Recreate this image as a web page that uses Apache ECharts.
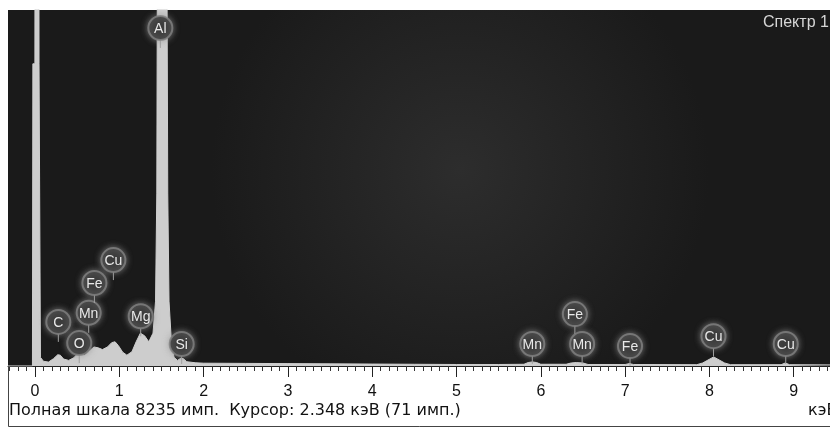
<!DOCTYPE html>
<html><head><meta charset="utf-8">
<script src="https://cdn.jsdelivr.net/npm/echarts@6/dist/echarts.min.js"></script>
<style>html,body{margin:0;padding:0;background:#fff}#c{width:830px;height:428px}</style>
</head><body><div id="c"></div>
<script>
// Spectrum: energy (keV) and counts
const specKeV = [-0.32,-0.03,-0.025,-0.001,0,0.047,0.048,0.06,0.065,0.1,0.16,0.22,0.27,0.3,0.34,0.4,0.46,0.51,0.55,0.59,0.64,0.7,0.75,0.8,0.86,0.91,0.95,0.99,1.04,1.09,1.15,1.2,1.25,1.3,1.35,1.4,1.43,1.445,1.452,1.565,1.575,1.59,1.62,1.65,1.69,1.73,1.76,1.8,1.9,2.0,2.5,3.0,3.5,4.0,4.5,5.0,5.5,5.8,5.85,5.9,5.95,6.0,6.3,6.36,6.42,6.5,6.56,7.0,7.05,7.1,7.85,7.92,8.05,8.18,8.25,8.85,8.9,8.95,9.43];
const specCounts = [0,0,6990,6990,9500,9500,6990,6990,200,110,90,170,260,250,160,130,190,290,300,250,340,440,420,380,440,540,560,470,320,250,330,560,760,700,560,760,1500,4000,9500,9500,4000,1500,500,200,130,180,170,100,75,65,60,55,50,45,40,35,35,40,80,95,80,40,40,70,80,70,35,35,55,35,30,70,210,70,30,30,70,30,25];
const fullScale = 8235;
const energyMin = -0.32, energyMax = 9.43;
const majorTicks = [0,1,2,3,4,5,6,7,8,9];
const tickLabels = ['0','1','2','3','4','5','6','7','8','9'];
// Element markers
const elemNames = ['Al','C','O','Mn','Fe','Cu','Mg','Si','Mn','Fe','Mn','Fe','Cu','Cu'];
const elemKeV = [1.487,0.277,0.525,0.637,0.705,0.93,1.254,1.74,5.899,6.404,6.49,7.058,8.048,8.905];
const elemLevel = [7820,1020,530,1230,1920,2450,1150,510,510,1200,510,460,690,510];
const titleText = 'Спектр 1';
const footerText = 'Полная шкала 8235 имп.  Курсор: 2.348 кэВ (71 имп.)';
const unitText = 'кэВ';

const minorTicks = [];
for (let i = -3; i <= 94; i++) { if (i % 10 !== 0) minorTicks.push(+(i / 10).toFixed(1)); }

const chart = echarts.init(document.getElementById('c'), null, {renderer: 'canvas'});
const FONT = 'Liberation Sans, Arial, sans-serif';
const FOOT = 'DejaVu Sans, Liberation Sans, sans-serif';
chart.setOption({
  animation: false,
  backgroundColor: '#ffffff',
  grid: {left: 8, right: 0, top: 10, bottom: 62, show: true, borderWidth: 0,
    backgroundColor: {type: 'radial', x: 0.55, y: 0.45, r: 0.7,
      colorStops: [{offset: 0, color: '#2d2d2d'}, {offset: 1, color: '#1a1a1a'}]}},
  xAxis: [{
    type: 'value', min: energyMin, max: energyMax,
    axisLine: {show: true, onZero: false, lineStyle: {color: '#222', width: 1}},
    axisTick: {show: true, length: 11, customValues: majorTicks, lineStyle: {color: '#222', width: 1}},
    axisLabel: {show: true, customValues: majorTicks, formatter: v => tickLabels[majorTicks.indexOf(Math.round(v))] || '',
      fontSize: 16, color: '#111', margin: 18, fontFamily: FONT},
    splitLine: {show: false}
  }, {
    type: 'value', min: energyMin, max: energyMax, position: 'bottom',
    axisLine: {show: false},
    axisTick: {show: true, length: 5, customValues: minorTicks, lineStyle: {color: '#333', width: 1}},
    axisLabel: {show: false}, splitLine: {show: false}
  }],
  yAxis: {type: 'value', min: 0, max: fullScale, show: false, splitLine: {show: false}},
  series: [{
    type: 'line', xAxisIndex: 0,
    data: specKeV.map((e, i) => [e, specCounts[i]]),
    symbol: 'none', clip: true,
    lineStyle: {width: 1, color: '#cfcfcf'},
    areaStyle: {color: '#cdcdcd', opacity: 1}
  }, {
    type: 'custom', xAxisIndex: 0, clip: false, z: 5,
    data: elemKeV.map((e, i) => [e, elemLevel[i]]),
    renderItem: function (params, api) {
      const p = api.coord([api.value(0), api.value(1)]);
      const r = 12;
      return {type: 'group', children: [
        {type: 'line', shape: {x1: p[0], y1: p[1] + r, x2: p[0], y2: p[1] + r + 8},
          style: {stroke: '#a0a0a0', lineWidth: 1}},
        {type: 'circle', shape: {cx: p[0], cy: p[1], r: r},
          style: {fill: '#3d3d3d', stroke: 'rgba(130,130,130,0.8)', lineWidth: 2,
            shadowBlur: 6, shadowColor: 'rgba(150,150,150,0.7)'}},
        {type: 'text', x: p[0], y: p[1] + 1, z2: 10,
          style: {text: elemNames[params.dataIndex], fill: '#e8e8e8', font: '14px ' + FONT,
            align: 'center', verticalAlign: 'middle'}}
      ]};
    }
  }],
  graphic: [
    {type: 'text', left: 763, top: 15, style: {text: titleText, fill: '#d6d6d6', font: '16px ' + FONT}},
    {type: 'text', left: 9, top: 403, style: {text: footerText, fill: '#111', font: '16px ' + FOOT}},
    {type: 'text', left: 808, top: 403, style: {text: unitText, fill: '#111', font: '16px ' + FOOT}},
    {type: 'rect', shape: {x: 8.5, y: 366, width: 830, height: 60.5}, style: {fill: 'none', stroke: '#444', lineWidth: 1}}
  ]
});
</script></body></html>
